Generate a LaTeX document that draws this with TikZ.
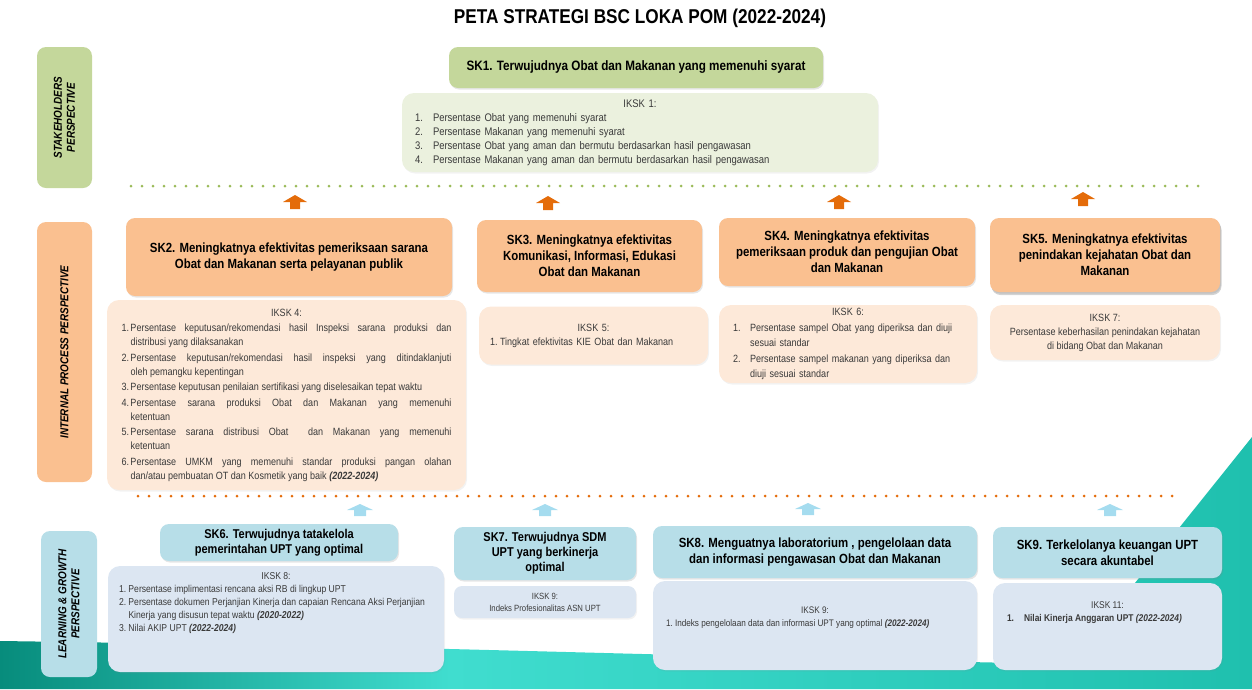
\documentclass[tikz,border=0pt]{standalone}
\usepackage{fontspec}
\setmainfont[FakeStretch=0.86]{Liberation Sans}
\usetikzlibrary{shadows}

\definecolor{hijau}{HTML}{C4D79B}
\definecolor{hijaumuda}{HTML}{EBF1DE}
\definecolor{jingga}{HTML}{FAC090}
\definecolor{jinggamuda}{HTML}{FDE9D9}
\definecolor{jinggatua}{HTML}{E46C0A}
\definecolor{biru}{HTML}{B7DEE8}
\definecolor{birumuda}{HTML}{DCE6F2}
\definecolor{birupanah}{HTML}{A5DCEF}
\definecolor{titikhijau}{HTML}{9BBB59}
\definecolor{tosca}{HTML}{1FC0AE}
\definecolor{toscatua}{HTML}{078C7C}
\definecolor{toscamuda}{HTML}{40DDCF}
\definecolor{teks}{HTML}{3A3A3A}

\newcommand{\judul}[1]{\makebox[\linewidth]{#1}\par}
\newcommand{\butir}[3][9pt]{\par\noindent\hangindent=#1\hangafter=1\makebox[#1][l]{#2}#3\par}
\newcommand{\isiatas}[4]{\begin{minipage}[c][#1][t]{#2}\raggedright\vspace*{#3}#4\end{minipage}}

\begin{document}
\begin{tikzpicture}[x=1pt,y=-1pt]
	\tikzset{sasaran/.style={rounded corners=9pt, align=center, inner sep=0pt, text=black, font=\bfseries\fontsize{13.3}{16}\selectfont, drop shadow={opacity=0.2, shadow xshift=1pt, shadow yshift=-1.5pt}},
		indikator/.style={rounded corners=12pt, inner sep=0pt, text=teks, font=\fontsize{10.5}{14}\selectfont, drop shadow={opacity=0.1, shadow xshift=1pt, shadow yshift=-1.5pt}},
		perspektif/.style={rounded corners=9pt, rotate=90, align=center, inner sep=0pt, font=\bfseries\itshape\fontsize{11.5}{13}\selectfont},
		panah/.pic={\fill (-5,7) -- (-5,0) -- (-12,0) -- (0,-7) -- (12,0) -- (5,0) -- (5,7) -- cycle;},
		panahbiru/.pic={\fill (-6,6) -- (-6,0) -- (-13,0) -- (0,-6) -- (13,0) -- (6,0) -- (6,6) -- cycle;},
		titik/.style={line width=3pt, line cap=round, dash pattern=on 0pt off 11pt}};

	\useasboundingbox (0,0) rectangle (1252,689);
	\shade[left color=toscatua, right color=toscamuda] (0,641) .. controls (150,643) and (300,646) .. (450,649) -- (450,689) -- (0,689) -- cycle;
	\shade[left color=toscamuda, right color=tosca] (450,649) .. controls (650,654) and (850,660) .. (1070,664) -- (1252,437) -- (1252,689) -- (450,689) -- cycle;

	\draw[titik, titikhijau] (131,186) -- (1205,186);
	\draw[titik, jinggatua] (138,496) -- (1182,496);

	\node[font=\bfseries\fontsize{20}{22}\selectfont] (judul) at (640,18) {PETA STRATEGI BSC LOKA POM (2022-2024)};

	\node[perspektif, fill=hijau, minimum width=141pt, minimum height=55pt] (p1) at (64.5,117.5) {STAKEHOLDERS\\PERSPECTIVE};
	\node[perspektif, fill=jingga, minimum width=260pt, minimum height=55pt] (p2) at (64.5,352) {INTERNAL PROCESS PERSPECTIVE};
	\node[perspektif, fill=biru, minimum width=146pt, minimum height=56pt] (p3) at (69,604) {LEARNING \& GROWTH\\PERSPECTIVE};

	\node[sasaran, fill=hijau, minimum width=374pt, minimum height=41pt, font=\bfseries\fontsize{13.6}{16}\selectfont] (sk1) at (636,67.5) {SK1. Terwujudnya Obat dan Makanan yang memenuhi syarat};
	\node[indikator, fill=hijaumuda, minimum width=476pt, minimum height=79pt, text width=450pt, align=left, font=\fontsize{11}{14}\selectfont] (iksk1) at (640,132.5) {\judul{IKSK 1:}
		\butir[18pt]{1.}{Persentase Obat yang memenuhi syarat}
		\butir[18pt]{2.}{Persentase Makanan yang memenuhi syarat}
		\butir[18pt]{3.}{Persentase Obat yang aman dan bermutu berdasarkan hasil pengawasan}
		\butir[18pt]{4.}{Persentase Makanan yang aman dan bermutu berdasarkan hasil pengawasan}};

	\pic[color=jinggatua] (a2) at (295,202) {panah};
	\pic[color=jinggatua] (a3) at (548,203) {panah};
	\pic[color=jinggatua] (a4) at (839,202) {panah};
	\pic[color=jinggatua] (a5) at (1083,199) {panah};

	\node[sasaran, fill=jingga, minimum width=326pt, minimum height=78pt] (sk2) at (289,257) {SK2. Meningkatnya efektivitas pemeriksaan sarana\\Obat dan Makanan serta pelayanan publik};
	\node[indikator, fill=jinggamuda, minimum width=359pt, minimum height=190pt, text width=330pt, align=justify] (iksk4) at (286.5,395) {\setlength{\parskip}{1.5pt}\judul{IKSK 4:}
		\butir{1.}{Persentase keputusan/rekomendasi hasil Inspeksi sarana produksi dan\linebreak distribusi yang dilaksanakan}
		\butir{2.}{Persentase keputusan/rekomendasi hasil inspeksi yang ditindaklanjuti\linebreak oleh pemangku kepentingan}
		\butir{3.}{Persentase keputusan penilaian sertifikasi yang diselesaikan tepat waktu}
		\butir{4.}{Persentase sarana produksi Obat dan Makanan yang memenuhi\linebreak ketentuan}
		\butir{5.}{Persentase sarana distribusi Obat~ dan Makanan yang memenuhi\linebreak ketentuan}
		\butir{6.}{Persentase UMKM yang memenuhi standar produksi pangan olahan\linebreak dan/atau pembuatan OT dan Kosmetik yang baik \textbf{\textit{(2022-2024)}}}};

	\node[sasaran, fill=jingga, minimum width=225pt, minimum height=72pt] (sk3) at (589.5,256) {SK3. Meningkatnya efektivitas\\Komunikasi, Informasi, Edukasi\\Obat dan Makanan};
	\node[indikator, fill=jinggamuda, minimum width=229pt, minimum height=58pt, text width=207pt, align=left] (iksk5) at (593.5,335.5) {\judul{IKSK 5:}
		\butir[10pt]{1.}{Tingkat efektivitas KIE Obat dan Makanan}};

	\node[sasaran, fill=jingga, minimum width=256pt, minimum height=68pt] (sk4) at (847,252) {SK4. Meningkatnya efektivitas\\pemeriksaan produk dan pengujian Obat\\dan Makanan};
	\node[indikator, fill=jinggamuda, minimum width=258pt, minimum height=78pt, text width=230pt, align=left, font=\fontsize{10.5}{15.5}\selectfont] (iksk6) at (848,344) {\judul{IKSK 6:}
		\butir[17pt]{1.}{Persentase sampel Obat yang diperiksa dan diuji\newline sesuai standar}
		\butir[17pt]{2.}{Persentase sampel makanan yang diperiksa dan\newline diuji sesuai standar}};

	\node[sasaran, fill=jingga, minimum width=230pt, minimum height=74pt, drop shadow={opacity=0.35, shadow xshift=1.5pt, shadow yshift=-3pt}] (sk5) at (1105,255) {SK5. Meningkatnya efektivitas\\penindakan kejahatan Obat dan\\Makanan};
	\node[indikator, fill=jinggamuda, minimum width=230pt, minimum height=55pt, align=center] (iksk7) at (1105,332.5) {IKSK 7:\\Persentase keberhasilan penindakan kejahatan\\di bidang Obat dan Makanan};

	\pic[color=birupanah] (a6) at (360,510) {panahbiru};
	\pic[color=birupanah] (a7) at (545,510) {panahbiru};
	\pic[color=birupanah] (a8) at (808,509) {panahbiru};
	\pic[color=birupanah] (a9) at (1110,510) {panahbiru};

	\node[sasaran, fill=biru, minimum width=238pt, minimum height=37pt, font=\bfseries\fontsize{12.8}{15}\selectfont] (sk6) at (279,542.5) {SK6. Terwujudnya tatakelola\\pemerintahan UPT yang optimal};
	\node[indikator, fill=birumuda, minimum width=336pt, minimum height=106pt, font=\fontsize{10}{13}\selectfont] (iksk8) at (276,619) {\isiatas{106pt}{314pt}{7pt}{\judul{IKSK 8:}
		\butir[9.5pt]{1.}{Persentase implimentasi rencana aksi RB di lingkup UPT}
		\butir[9.5pt]{2.}{Persentase dokumen Perjanjian Kinerja dan capaian Rencana Aksi Perjanjian\newline Kinerja yang disusun tepat waktu \textbf{\textit{(2020-2022)}}}
		\butir[9.5pt]{3.}{Nilai AKIP UPT \textbf{\textit{(2022-2024)}}}}};

	\node[sasaran, fill=biru, minimum width=182pt, minimum height=53pt, font=\bfseries\fontsize{12.8}{15}\selectfont] (sk7) at (545,553.5) {SK7. Terwujudnya SDM\\UPT yang berkinerja\\optimal};
	\node[indikator, fill=birumuda, minimum width=182pt, minimum height=32pt, align=center, rounded corners=8pt, font=\fontsize{9}{12}\selectfont] (iksk9a) at (545,602) {IKSK 9:\\Indeks Profesionalitas ASN UPT};

	\node[sasaran, fill=biru, minimum width=324pt, minimum height=52pt] (sk8) at (815,552) {SK8. Menguatnya laboratorium , pengelolaan data\\dan informasi pengawasan Obat dan Makanan};
	\node[indikator, fill=birumuda, minimum width=324pt, minimum height=89pt, font=\fontsize{9.5}{13}\selectfont] (iksk9b) at (815,625.5) {\isiatas{89pt}{298pt}{26pt}{\judul{IKSK 9:}
		\butir[9pt]{1.}{Indeks pengelolaan data dan informasi UPT yang optimal \textbf{\textit{(2022-2024)}}}}};

	\node[sasaran, fill=biru, minimum width=229pt, minimum height=51pt] (sk9) at (1107.5,552.5) {SK9. Terkelolanya keuangan UPT\\secara akuntabel};
	\node[indikator, fill=birumuda, minimum width=229pt, minimum height=87pt, font=\fontsize{9.8}{13}\selectfont] (iksk11) at (1107.5,626.5) {\isiatas{87pt}{201pt}{19pt}{\judul{IKSK 11:}
		\butir[17pt]{\textbf{1.}}{\textbf{Nilai Kinerja Anggaran UPT \textit{(2022-2024)}}}}};

\end{tikzpicture}
\end{document}
